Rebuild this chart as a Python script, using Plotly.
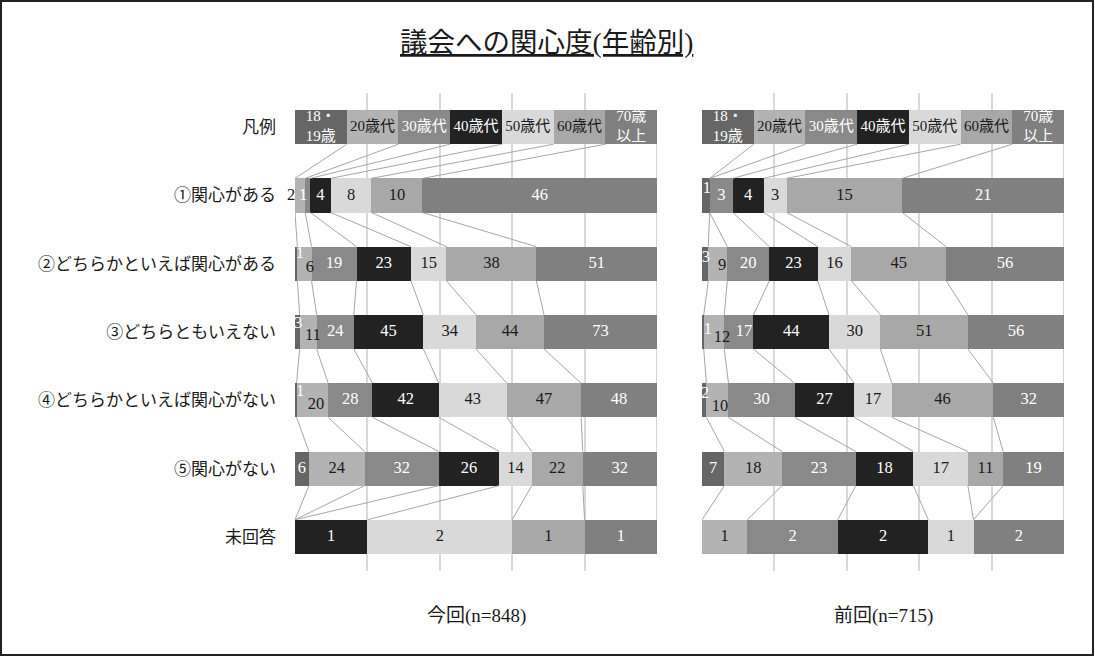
import plotly.graph_objects as go

# ---------------- data ----------------
rows = ["凡例", "①関心がある", "②どちらかといえば関心がある", "③どちらともいえない",
        "④どちらかといえば関心がない", "⑤関心がない", "未回答"]
ages = ["18・19歳", "20歳代", "30歳代", "40歳代", "50歳代", "60歳代", "70歳以上"]
legend_labels = ["18・<br>19歳", "20歳代", "30歳代", "40歳代", "50歳代", "60歳代", "70歳<br>以上"]

# counts for rows ①..未回答, per age group
cur_18 = [0, 1, 3, 1, 6, 0]
cur_20 = [2, 6, 11, 20, 24, 0]
cur_30 = [1, 19, 24, 28, 32, 0]
cur_40 = [4, 23, 45, 42, 26, 1]
cur_50 = [8, 15, 34, 43, 14, 2]
cur_60 = [10, 38, 44, 47, 22, 1]
cur_70 = [46, 51, 73, 48, 32, 1]

prev_18 = [1, 3, 1, 2, 7, 0]
prev_20 = [0, 9, 12, 10, 18, 1]
prev_30 = [3, 20, 17, 30, 23, 2]
prev_40 = [4, 23, 44, 27, 18, 2]
prev_50 = [3, 16, 30, 17, 17, 1]
prev_60 = [15, 45, 51, 46, 11, 0]
prev_70 = [21, 56, 56, 32, 19, 2]

panel_titles = ["今回(n=848)", "前回(n=715)"]
title = "議会への関心度(年齢別)"

# ---------------- styles ----------------
colors = ["#666666", "#b3b3b3", "#898989", "#222222", "#d9d9d9", "#a8a8a8", "#808080"]
text_colors = ["white", "#1a1a1a", "white", "white", "#1a1a1a", "#1a1a1a", "white"]
FONT = "Liberation Serif, Noto Sans CJK JP, serif"

# label nudges for narrow segments: (panel, row, series) -> (dx in %, dy in category units)
nudges = {
    (0, 1, 1): (-3.6, 0.0), (0, 1, 2): (-1.3, 0.0),
    (0, 2, 0): (1.0, -0.14), (0, 2, 1): (1.5, 0.06),
    (0, 3, 0): (0.2, -0.12), (0, 3, 1): (1.3, 0.05),
    (0, 4, 0): (1.2, -0.12), (0, 4, 1): (1.0, 0.07),
    (1, 1, 0): (0.3, -0.1),
    (1, 2, 0): (0.2, -0.08), (1, 2, 1): (1.2, 0.03),
    (1, 3, 0): (1.4, -0.03), (1, 3, 1): (2.2, 0.09), (1, 3, 2): (1.4, 0.0),
    (1, 4, 0): (0.2, -0.1), (1, 4, 1): (0.7, 0.1),
}

panels = [
    [cur_18, cur_20, cur_30, cur_40, cur_50, cur_60, cur_70],
    [prev_18, prev_20, prev_30, prev_40, prev_50, prev_60, prev_70],
]

fig = go.Figure()
ypos = list(range(len(rows)))

for p, series in enumerate(panels):
    xa = "x" if p == 0 else "x2"
    ya = "y" if p == 0 else "y2"
    counts = [[1] + s for s in series]
    totals = [sum(counts[i][r] for i in range(len(ages))) for r in range(len(rows))]
    pct = [[counts[i][r] / totals[r] * 100 for r in range(len(rows))] for i in range(len(ages))]

    cum = []
    run = [0.0] * len(rows)
    for i in range(len(ages)):
        run = [run[r] + pct[i][r] for r in range(len(rows))]
        cum.append(run[:])

    for i in range(len(ages)):
        fig.add_trace(go.Bar(
            y=ypos, x=pct[i], orientation="h", width=0.5,
            marker=dict(color=colors[i], line=dict(width=0)),
            name=ages[i], showlegend=False, xaxis=xa, yaxis=ya,
            hoverinfo="x+name",
        ))

    lx, ly = [], []
    for i in range(len(ages)):
        for r in range(len(rows) - 1):
            lx += [cum[i][r], cum[i][r + 1], None]
            ly += [r + 0.25, r + 0.75, None]
    fig.add_trace(go.Scatter(x=lx, y=ly, mode="lines", line=dict(color="#a6a6a6", width=1),
                             showlegend=False, hoverinfo="skip", xaxis=xa, yaxis=ya))

    tx, ty, tt, tc, ts, tp = [], [], [], [], [], []
    for i in range(len(ages)):
        for r in range(len(rows)):
            if counts[i][r] == 0:
                continue
            mid = cum[i][r] - pct[i][r] / 2
            dx, dy = nudges.get((p, r, i), (0.0, 0.0))
            x = mid + dx
            pos = "middle center"
            if x < 0:
                x, pos = 0.05, "middle left"
            tx.append(x)
            ty.append(r + dy)
            tt.append(legend_labels[i] if r == 0 else str(counts[i][r]))
            tc.append(text_colors[i])
            ts.append(15 if r == 0 else 16.5)
            tp.append(pos)
    fig.add_trace(go.Scatter(x=tx, y=ty, text=tt, mode="text", cliponaxis=False,
                             textfont=dict(family=FONT, size=ts, color=tc),
                             textposition=tp,
                             showlegend=False, hoverinfo="skip", xaxis=xa, yaxis=ya))

ML, MR, MT, MB = 295, 31, 93, 86
W, H = 1095, 657
PW, PH = W - ML - MR, H - MT - MB
d1 = (657 - ML) / PW
d2 = (702 - ML) / PW

xcommon = dict(range=[0, 100], dtick=20, showgrid=True, gridcolor="#d9d9d9", gridwidth=2,
               showticklabels=False, zeroline=False, showline=False, fixedrange=True)
fig.update_layout(
    width=W, height=H,
    margin=dict(l=ML, r=MR, t=MT, b=MB),
    paper_bgcolor="white", plot_bgcolor="white",
    barmode="stack",
    font=dict(family=FONT, size=15, color="#1a1a1a"),
    xaxis=dict(domain=[0, d1], anchor="y", **xcommon),
    xaxis2=dict(domain=[d2, 1], anchor="y2", **xcommon),
    yaxis=dict(range=[6.5, -0.5], tickvals=ypos, ticktext=rows, showgrid=False,
               zeroline=False, ticklabelstandoff=18, tickfont=dict(size=17, color="#1a1a1a"),
               anchor="x"),
    yaxis2=dict(range=[6.5, -0.5], tickvals=ypos, showticklabels=False, showgrid=False,
                zeroline=False, anchor="x2", matches="y"),
)

fig.add_annotation(text="<u>" + title + "</u>", xref="paper", yref="paper",
                   x=(546 - ML) / PW, y=(H - MB - 42) / PH, xanchor="center", yanchor="middle",
                   showarrow=False, font=dict(family=FONT, size=27.5, color="#1a1a1a"))
for p, (xd, t) in enumerate(zip(["x domain", "x2 domain"], panel_titles)):
    fig.add_annotation(text=t, xref=xd, yref="paper", x=0.5, y=(H - MB - 616) / PH,
                       xanchor="center", yanchor="middle", showarrow=False,
                       font=dict(family=FONT, size=19, color="#1a1a1a"))

fig.add_shape(type="rect", xref="paper", yref="paper",
              x0=(1 - ML) / PW, x1=(W - 2 - ML) / PW,
              y0=(H - MB - (H - 2)) / PH, y1=(H - MB - 1) / PH,
              line=dict(color="#222222", width=2), fillcolor="rgba(0,0,0,0)", layer="above")

fig.write_html("out.html", config={"displayModeBar": False},
               post_script="document.body.style.margin='0';document.body.style.overflow='hidden';")
